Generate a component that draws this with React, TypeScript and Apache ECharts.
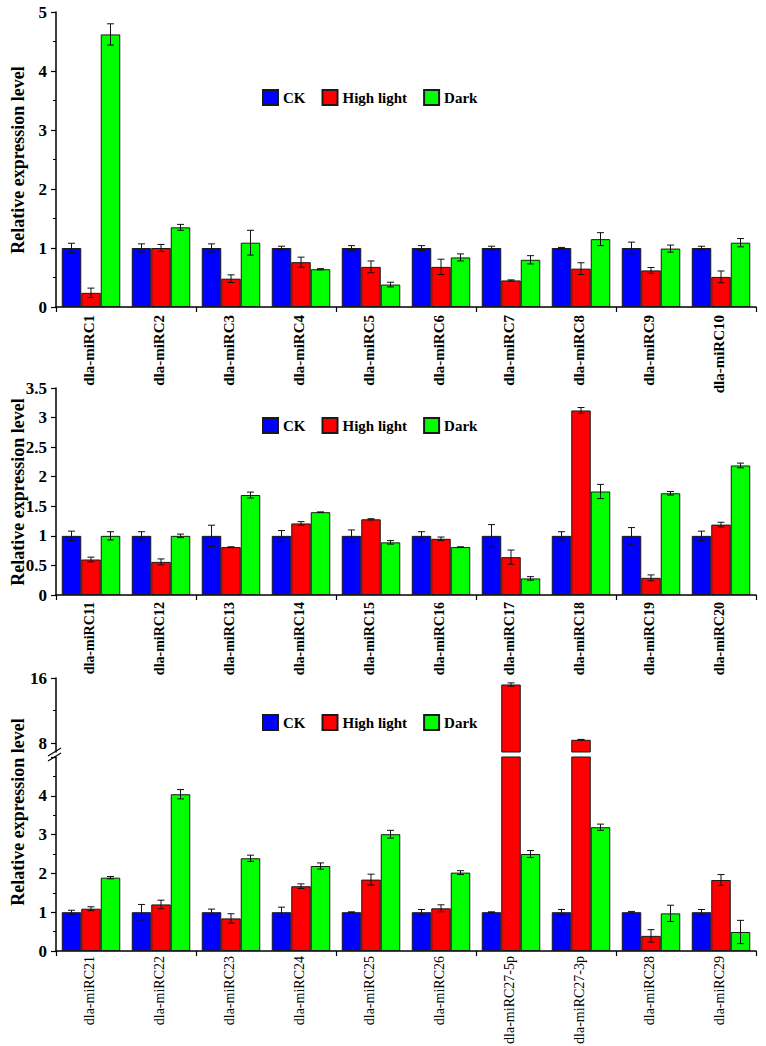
import React, { useEffect, useRef } from 'react';
import * as echarts from 'echarts';

const seriesNames = ['CK', 'High light', 'Dark'];
const colors = ['#0000FF', '#FF0000', '#00FF00'];
const yTitle = 'Relative expression level';

const cats1 = ['dla-miRC1', 'dla-miRC2', 'dla-miRC3', 'dla-miRC4', 'dla-miRC5', 'dla-miRC6', 'dla-miRC7', 'dla-miRC8', 'dla-miRC9', 'dla-miRC10'];
const ck1 = [1, 1, 1, 1, 1, 1, 1, 1, 1, 1];
const ckErr1 = [0.08, 0.07, 0.07, 0.03, 0.04, 0.04, 0.03, 0.01, 0.1, 0.03];
const hl1 = [0.24, 1.0, 0.48, 0.76, 0.68, 0.68, 0.45, 0.65, 0.62, 0.51];
const hlErr1 = [0.08, 0.06, 0.065, 0.085, 0.1, 0.13, 0.01, 0.1, 0.05, 0.1];
const dk1 = [4.62, 1.35, 1.09, 0.64, 0.38, 0.84, 0.8, 1.15, 0.99, 1.09];
const dkErr1 = [0.18, 0.05, 0.21, 0.01, 0.04, 0.06, 0.07, 0.11, 0.06, 0.07];

const cats2 = ['dla-miRC11', 'dla-miRC12', 'dla-miRC13', 'dla-miRC14', 'dla-miRC15', 'dla-miRC16', 'dla-miRC17', 'dla-miRC18', 'dla-miRC19', 'dla-miRC20'];
const ck2 = [1, 1, 1, 1, 1, 1, 1, 1, 1, 1];
const ckErr2 = [0.08, 0.07, 0.18, 0.09, 0.1, 0.07, 0.19, 0.07, 0.14, 0.08];
const hl2 = [0.6, 0.56, 0.81, 1.21, 1.28, 0.95, 0.64, 3.12, 0.29, 1.19];
const hlErr2 = [0.04, 0.05, 0.005, 0.03, 0.01, 0.03, 0.12, 0.05, 0.05, 0.04];
const dk2 = [1.0, 1.0, 1.69, 1.4, 0.89, 0.81, 0.28, 1.75, 1.72, 2.19];
const dkErr2 = [0.07, 0.03, 0.05, 0.005, 0.03, 0.005, 0.03, 0.12, 0.03, 0.04];

const cats3 = ['dla-miRC21', 'dla-miRC22', 'dla-miRC23', 'dla-miRC24', 'dla-miRC25', 'dla-miRC26', 'dla-miRC27-5p', 'dla-miRC27-3p', 'dla-miRC28', 'dla-miRC29'];
const ck3 = [1, 1, 1, 1, 1, 1, 1, 1, 1, 1];
const ckErr3 = [0.05, 0.2, 0.08, 0.13, 0.01, 0.07, 0.01, 0.07, 0.02, 0.07];
const hl3 = [1.09, 1.2, 0.84, 1.67, 1.84, 1.1, 15.2, 8.4, 0.39, 1.83];
const hlErr3 = [0.05, 0.11, 0.12, 0.06, 0.14, 0.09, 0.2, 0.05, 0.16, 0.14];
const dk3 = [1.89, 4.04, 2.39, 2.19, 3.01, 2.02, 2.5, 3.19, 0.97, 0.49];
const dkErr3 = [0.03, 0.12, 0.08, 0.08, 0.1, 0.05, 0.09, 0.08, 0.21, 0.3];

const ticks1 = { min: 0, max: 5, interval: 1 };
const ticks2 = { min: 0, max: 3.5, interval: 0.5 };
const ticks3Low = { min: 0, max: 5, interval: 1 };
const ticks3High = { min: 6.9, max: 16, labels: [8, 16], minor: [12] };

const FONT = '"Liberation Serif", "Times New Roman", serif';
const BW = 19.5;
const LEFT = 56;
const WIDTH = 700;

function barSeries(xi: number, yi: number, k: number, data: any[]) {
  return {
    type: 'bar',
    name: seriesNames[k],
    xAxisIndex: xi,
    yAxisIndex: yi,
    data,
    barWidth: BW,
    barGap: '0%',
    clip: true,
    itemStyle: { color: colors[k], borderColor: '#1a1a1a', borderWidth: 1 },
    emphasis: { disabled: true },
  };
}

function errSeries(xi: number, yi: number, k: number, vals: number[], errs: number[], keep: (v: number) => boolean) {
  const data = vals.map((v, i) => [i, v, errs[i]]).filter((d) => keep(d[1]));
  return {
    type: 'custom',
    xAxisIndex: xi,
    yAxisIndex: yi,
    z: 5,
    silent: true,
    encode: { x: 0, y: 1 },
    data,
    renderItem: (params: any, api: any) => {
      const i = api.value(0);
      const v = api.value(1);
      const e = api.value(2);
      const hi = api.coord([i, v + e]);
      const lo = api.coord([i, v - e]);
      const x = hi[0] + (k - 1) * BW;
      const cap = 3.5;
      const st = { stroke: '#111', lineWidth: 1 };
      return {
        type: 'group',
        children: [
          { type: 'line', shape: { x1: x, y1: hi[1], x2: x, y2: lo[1] }, style: st },
          { type: 'line', shape: { x1: x - cap, y1: hi[1], x2: x + cap, y2: hi[1] }, style: st },
          { type: 'line', shape: { x1: x - cap, y1: lo[1], x2: x + cap, y2: lo[1] }, style: st },
        ],
      };
    },
  };
}

// category labels drawn at the axis' own category positions, turned to read upwards
function labelSeries(xi: number, yi: number, cats: string[], bold: boolean, size: number, margin: number) {
  const font = (bold ? 'bold ' : '') + size + 'px ' + FONT;
  return {
    type: 'custom',
    xAxisIndex: xi,
    yAxisIndex: yi,
    silent: true,
    clip: false,
    z: 6,
    encode: { x: 0, y: 1 },
    data: cats.map((c, i) => [i, 0]),
    renderItem: (params: any, api: any) => {
      const p = api.coord([api.value(0), 0]);
      return {
        type: 'text',
        x: p[0] - 2,
        y: p[1] + margin,
        rotation: Math.PI / 2,
        style: {
          text: cats[params.dataIndex],
          font,
          fill: '#000',
          align: 'right',
          verticalAlign: 'middle',
          textAlign: 'right',
          textVerticalAlign: 'middle',
        },
      };
    },
  };
}

const axisLineStyle = { color: '#000', width: 1.5 };

function mainX(gi: number, cats: string[]) {
  return {
    type: 'category',
    gridIndex: gi,
    data: cats,
    axisLine: { show: true, lineStyle: axisLineStyle },
    axisTick: { show: true, length: 5, lineStyle: { color: '#000', width: 1.2 } },
    axisLabel: { show: false },
    splitLine: { show: false },
  };
}

const yLabel = { color: '#000', fontFamily: FONT, fontWeight: 'bold', fontSize: 17, margin: 9 };

function mainY(gi: number, t: any, minor: boolean) {
  return {
    type: 'value',
    gridIndex: gi,
    position: 'left',
    min: t.min,
    max: t.max,
    interval: t.interval,
    axisLine: { show: true, lineStyle: axisLineStyle },
    axisTick: { show: true, length: 5, lineStyle: { color: '#000', width: 1.2 } },
    minorTick: { show: minor, splitNumber: 2, length: 3, lineStyle: { color: '#000', width: 1 } },
    splitLine: { show: false },
    minorSplitLine: { show: false },
    axisLabel: yLabel,
  };
}

export default function App() {
  const ref = useRef<HTMLDivElement>(null);
  useEffect(() => {
    document.body.style.margin = '0';
    const chart = echarts.init(ref.current!, null, { renderer: 'svg' });

    const grids = [
      { left: LEFT, top: 12, width: WIDTH, height: 295, outerBoundsMode: 'none' },
      { left: LEFT, top: 388, width: WIDTH, height: 207, outerBoundsMode: 'none' },
      { left: LEFT, top: 757, width: WIDTH, height: 194, outerBoundsMode: 'none' },
      { left: LEFT, top: 678, width: WIDTH, height: 74, outerBoundsMode: 'none' },
    ];

    const xAxis = [
      mainX(0, cats1),
      mainX(1, cats2),
      mainX(2, cats3),
      { type: 'category', gridIndex: 3, data: cats3, show: false },
    ];

    const yAxis = [
      mainY(0, ticks1, true),
      mainY(1, ticks2, false),
      { ...mainY(2, ticks3Low, true), axisLabel: { ...yLabel, showMaxLabel: false } },
      {
        type: 'value',
        gridIndex: 3,
        position: 'left',
        min: ticks3High.min,
        max: ticks3High.max,
        axisLine: { show: true, lineStyle: axisLineStyle },
        axisTick: { show: true, length: 5, customValues: ticks3High.labels, lineStyle: { color: '#000', width: 1.2 } },
        axisLabel: { ...yLabel, customValues: ticks3High.labels },
        splitLine: { show: false },
      },
      {
        type: 'value',
        gridIndex: 3,
        position: 'left',
        min: ticks3High.min,
        max: ticks3High.max,
        axisLine: { show: false },
        axisTick: { show: true, length: 3, customValues: ticks3High.minor, lineStyle: { color: '#000', width: 1 } },
        axisLabel: { show: false, customValues: ticks3High.minor },
        splitLine: { show: false },
      },
    ];

    const low = (v: number) => v <= ticks3Low.max;
    const high = (v: number) => v > ticks3Low.max;
    const all = () => true;

    const series: any[] = [
      barSeries(0, 0, 0, ck1),
      barSeries(0, 0, 1, hl1),
      barSeries(0, 0, 2, dk1),
      errSeries(0, 0, 0, ck1, ckErr1, all),
      errSeries(0, 0, 1, hl1, hlErr1, all),
      errSeries(0, 0, 2, dk1, dkErr1, all),
      labelSeries(0, 0, cats1, true, 15, 8),

      barSeries(1, 1, 0, ck2),
      barSeries(1, 1, 1, hl2),
      barSeries(1, 1, 2, dk2),
      errSeries(1, 1, 0, ck2, ckErr2, all),
      errSeries(1, 1, 1, hl2, hlErr2, all),
      errSeries(1, 1, 2, dk2, dkErr2, all),
      labelSeries(1, 1, cats2, true, 14, 7),

      barSeries(2, 2, 0, ck3),
      barSeries(2, 2, 1, hl3),
      barSeries(2, 2, 2, dk3),
      errSeries(2, 2, 0, ck3, ckErr3, all),
      errSeries(2, 2, 1, hl3, hlErr3, low),
      errSeries(2, 2, 2, dk3, dkErr3, all),
      labelSeries(2, 2, cats3, false, 14, 5),

      barSeries(3, 3, 1, hl3.map((v) => (high(v) ? v : '-'))),
      errSeries(3, 3, 1, hl3, hlErr3, high),
    ];

    const legendTop = [89, 417, 714];
    const legend = legendTop.map((top) => ({
      data: seriesNames,
      left: 262,
      top,
      padding: 0,
      orient: 'horizontal',
      icon: 'rect',
      itemWidth: 15,
      itemHeight: 15,
      itemGap: 16,
      selectedMode: false,
      textStyle: { color: '#000', fontFamily: FONT, fontWeight: 'bold', fontSize: 15 },
    }));

    const titleCenters = [160, 492, 812];
    const graphic: any[] = titleCenters.map((cy) => ({
      type: 'text',
      x: 18,
      y: cy,
      rotation: Math.PI / 2,
      style: {
        text: yTitle,
        font: 'bold 18px ' + FONT,
        fill: '#000',
        align: 'center',
        verticalAlign: 'middle',
        textAlign: 'center',
        textVerticalAlign: 'middle',
      },
    }));
    graphic.push(
      { type: 'line', shape: { x1: 48, y1: 756, x2: 61, y2: 748 }, style: { stroke: '#000', lineWidth: 1.3 } },
      { type: 'line', shape: { x1: 48, y1: 761, x2: 61, y2: 753 }, style: { stroke: '#000', lineWidth: 1.3 } }
    );

    chart.setOption({
      animation: false,
      backgroundColor: '#fff',
      grid: grids,
      xAxis,
      yAxis,
      legend,
      series,
      graphic,
    });
    return () => chart.dispose();
  }, []);
  return <div ref={ref} style={{ width: 766, height: 1046 }} />;
}
